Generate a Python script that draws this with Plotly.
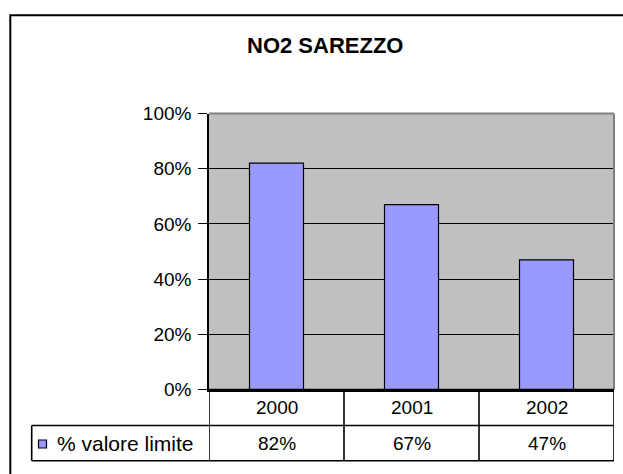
import plotly.graph_objects as go

# ---- data ----
title_text = "NO2 SAREZZO"
years = ["2000", "2001", "2002"]
values = [0.82, 0.67, 0.47]
series_name = "% valore limite"
y_ticks = [0, 0.2, 0.4, 0.6, 0.8, 1.0]

W, H = 623, 474
FONT = "Arial, Liberation Sans, sans-serif"

def px(x):
    return x / W

def py(y):
    return 1 - y / H

# plot area in pixels
PL, PR, PT, PB = 209, 614, 113.5, 389.5
ROW1, ROW2, ROWB = 389.5, 425.5, 460.7
TL = 31.7

fig = go.Figure()
fig.add_trace(go.Bar(
    x=years, y=values, width=0.4,
    marker=dict(color="#9999FF", line=dict(color="black", width=1.2)),
    name=series_name, showlegend=False, hoverinfo="x+y",
))

shapes = []
# outer chart border
shapes.append(dict(type="rect", xref="paper", yref="paper",
                   x0=px(10.3), x1=px(660), y0=py(15.3), y1=py(520),
                   line=dict(color="black", width=2), fillcolor="rgba(0,0,0,0)"))
# plot area border top/right (gray)
shapes.append(dict(type="line", xref="x domain", yref="y domain",
                   x0=0, x1=1, y0=1, y1=1, line=dict(color="#808080", width=2)))
shapes.append(dict(type="line", xref="x domain", yref="y domain",
                   x0=1, x1=1, y0=0, y1=1, line=dict(color="#808080", width=2)))

tbl = dict(color="black", width=1.6)
# table horizontal lines
shapes.append(dict(type="line", xref="paper", yref="paper",
                   x0=px(PL), x1=px(PR), y0=py(ROW1), y1=py(ROW1), line=tbl))
shapes.append(dict(type="line", xref="paper", yref="paper",
                   x0=px(TL), x1=px(PR), y0=py(ROW2), y1=py(ROW2), line=tbl))
shapes.append(dict(type="line", xref="paper", yref="paper",
                   x0=px(TL), x1=px(PR), y0=py(ROWB), y1=py(ROWB), line=tbl))
# table left edge
shapes.append(dict(type="line", xref="paper", yref="paper",
                   x0=px(TL), x1=px(TL), y0=py(ROW2), y1=py(ROWB), line=tbl))
# category boundaries
n = len(years)
for b in [i - 0.5 for i in range(n + 1)]:
    shapes.append(dict(type="line", xref="x", yref="paper",
                       x0=b, x1=b, y0=py(ROW1), y1=py(ROWB), line=tbl))
# legend key square
shapes.append(dict(type="rect", xref="paper", yref="paper",
                   x0=px(38.5), x1=px(46.5), y0=py(440), y1=py(448),
                   line=dict(color="black", width=1.2), fillcolor="#9999FF"))

annotations = [dict(text="<b>%s</b>" % title_text, xref="paper", yref="paper",
                    x=px(324.5), y=py(45.5), xanchor="center", yanchor="middle",
                    showarrow=False, font=dict(family=FONT, size=22, color="black"))]
for i, (yr, v) in enumerate(zip(years, values)):
    annotations.append(dict(text=yr, xref="x", yref="paper", x=i, y=py(407.5),
                            xanchor="center", yanchor="middle", showarrow=False,
                            font=dict(family=FONT, size=19, color="black")))
    annotations.append(dict(text="%d%%" % round(v * 100), xref="x", yref="paper", x=i,
                            y=py(443), xanchor="center", yanchor="middle", showarrow=False,
                            font=dict(family=FONT, size=19, color="black")))
annotations.append(dict(text=series_name, xref="paper", yref="paper", x=px(55), y=py(443),
                        xanchor="left", yanchor="middle", showarrow=False,
                        font=dict(family=FONT, size=21, color="black")))

fig.update_layout(
    width=W, height=H, margin=dict(l=0, r=0, t=0, b=0, autoexpand=False),
    paper_bgcolor="white", plot_bgcolor="#C0C0C0",
    shapes=shapes, annotations=annotations,
    xaxis=dict(type="category", domain=[px(PL), px(PR)], range=[-0.5, n - 0.5],
               showticklabels=False, ticks="", showgrid=False, zeroline=False,
               showline=True, linecolor="black", linewidth=1.5, fixedrange=True),
    yaxis=dict(domain=[py(PB), py(PT)], range=[0, 1], tickvals=y_ticks,
               tickformat=".0%", ticks="outside", ticklen=9, tickcolor="black",
               tickwidth=1.2, showgrid=True, gridcolor="black", gridwidth=1.2,
               zeroline=False, showline=True, linecolor="black", linewidth=1.5,
               automargin=False, ticklabelstandoff=3,
               tickfont=dict(family=FONT, size=19, color="black"), fixedrange=True),
    bargap=0.6,
)

fig.write_html("out.html", config={"displayModeBar": False},
               post_script="document.body.style.margin='0';document.body.style.overflow='hidden';")
